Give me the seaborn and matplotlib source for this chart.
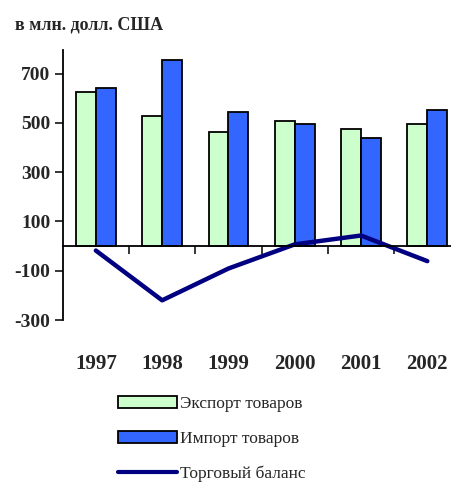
import matplotlib
matplotlib.use("Agg")
import matplotlib.pyplot as plt
from matplotlib.patches import Patch
from matplotlib.lines import Line2D
import numpy as np
import pandas as pd
import seaborn as sns

years = ["1997", "1998", "1999", "2000", "2001", "2002"]
export_vals = [624, 526, 463, 509, 477, 494]
import_vals = [640, 754, 543, 494, 437, 551]
balance_vals = [-18, -220, -91, 7, 43, -61]

series_names = ["Экспорт товаров", "Импорт товаров", "Торговый баланс"]
colors = ["#CCFFCC", "#3366FF", "#000080"]

sns.set_style("white")
plt.rcParams["font.family"] = ["Liberation Serif", "DejaVu Serif"]
plt.rcParams["font.weight"] = "bold"

df = pd.DataFrame({
    "year": years * 2,
    "value": export_vals + import_vals,
    "series": [series_names[0]] * len(years) + [series_names[1]] * len(years),
})

fig = plt.figure(figsize=(4.51, 4.82), dpi=100)
ax = fig.add_axes([0.139, 0.336, 0.882, 0.560])

sns.barplot(
    data=df, x="year", y="value", hue="series",
    palette=colors[:2], width=0.6, edgecolor="black", linewidth=1.3,
    saturation=1, ax=ax, legend=False,
)
sns.lineplot(
    x=np.arange(len(years)), y=balance_vals,
    color=colors[2], linewidth=3.2, ax=ax,
)

ax.set_xlim(-0.5, len(years) - 0.5)
ax.set_ylim(-300, 795)
ax.set_yticks([700, 500, 300, 100, -100, -300])
ax.set_yticklabels(["700", "500", "300", "100", "-100", "-300"], fontsize=14)
ax.tick_params(axis="y", direction="out", length=6, width=1.3, pad=3, left=True)

# границы категорий — основные деления, подписи годов — второстепенные
ax.set_xticks(np.arange(len(years) - 1) + 0.5)
ax.set_xticks(np.arange(len(years)), minor=True)
ax.xaxis.set_major_formatter(plt.NullFormatter())
ax.xaxis.set_minor_formatter(plt.FixedFormatter(years))
ax.tick_params(axis="x", which="major", direction="out", length=6,
               width=1.3, bottom=True)
ax.tick_params(axis="x", which="minor", length=0, pad=78, labelsize=15)

ax.spines["bottom"].set_position(("data", 0))
ax.spines["bottom"].set_linewidth(1.3)
ax.spines["left"].set_linewidth(1.3)
ax.spines["left"].set_color("black")
ax.spines["bottom"].set_color("black")
ax.spines["top"].set_visible(False)
ax.spines["right"].set_visible(False)
ax.set_xlabel("")
ax.set_ylabel("")

fig.text(0.033, 0.948, "в млн. долл. США", fontsize=13,
         va="center", ha="left")

handles = [
    Patch(facecolor=colors[0], edgecolor="black", linewidth=1.3),
    Patch(facecolor=colors[1], edgecolor="black", linewidth=1.3),
    Line2D([0], [0], color=colors[2], linewidth=3),
]
fig.legend(
    handles, series_names, loc="upper left", bbox_to_anchor=(0.246, 0.193),
    frameon=False, prop={"size": 12.5, "weight": "normal"},
    handlelength=3.4, handleheight=0.7,
    labelspacing=1.08, handletextpad=0.2, borderaxespad=0,
)

fig.savefig("out.png", dpi=100)
